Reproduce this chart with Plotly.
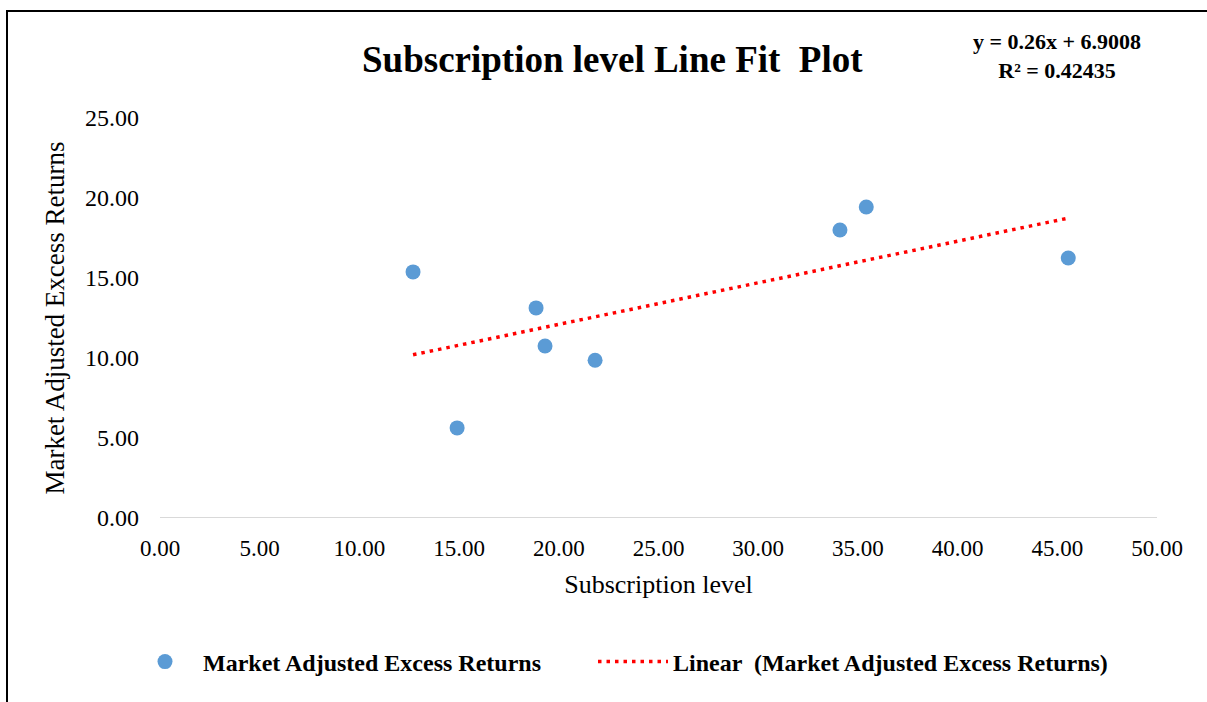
import plotly.graph_objects as go

# Subscription level vs. market adjusted excess returns
subscription = [12.69, 14.90, 18.86, 19.31, 21.82, 34.10, 35.42, 45.55]
excess_returns = [15.38, 5.63, 13.13, 10.75, 9.86, 18.00, 19.44, 16.25]

# Linear trendline coefficients
slope = 0.26
intercept = 6.9008
r_squared = 0.42435

x_ticks = [0, 5, 10, 15, 20, 25, 30, 35, 40, 45, 50]
y_ticks = [0, 5, 10, 15, 20, 25]

W, H = 1207, 702
L, R, T, B = 160, 50, 118, 184
pw, ph = W - L - R, H - T - B

def px_x(p):
    return (p - L) / pw

def px_y(p):
    return (H - B - p) / ph

font_family = "Liberation Serif, Times New Roman, serif"
legend_font = dict(family=font_family, size=24, color="#000000", weight="bold")

trend_x = [min(subscription), max(subscription)]
trend_y = [slope * v + intercept for v in trend_x]

fig = go.Figure()
fig.add_trace(go.Scatter(
    x=subscription, y=excess_returns, mode="markers",
    name="Market Adjusted Excess Returns",
    marker=dict(color="#5b9bd5", size=15, line=dict(width=0)),
    legend="legend",
))
fig.add_trace(go.Scatter(
    x=trend_x, y=trend_y, mode="lines",
    name="Linear  (Market Adjusted Excess Returns)",
    line=dict(color="#ff0000", width=3.5, dash="3.5px,5px"),
    legend="legend2",
))

fig.update_layout(
    width=W, height=H,
    margin=dict(l=L, r=R, t=T, b=B),
    paper_bgcolor="white", plot_bgcolor="white",
    font=dict(family=font_family, color="#000000", size=18),
    showlegend=True,
    legend=dict(
        orientation="h", x=px_x(127), y=px_y(662), xanchor="left", yanchor="middle",
        font=legend_font, itemwidth=66, bgcolor="rgba(0,0,0,0)",
    ),
    legend2=dict(
        orientation="h", x=px_x(593), y=px_y(662), xanchor="left", yanchor="middle",
        font=legend_font, itemwidth=70, bgcolor="rgba(0,0,0,0)",
    ),
    xaxis=dict(
        range=[0, 50], tickvals=x_ticks, ticktext=[f"{v:.2f}" for v in x_ticks],
        showgrid=False, zeroline=False, showline=False, ticks="",
        tickfont=dict(size=23), ticklabelstandoff=14,
        title=dict(text="Subscription level", font=dict(size=26), standoff=14),
        fixedrange=True,
    ),
    yaxis=dict(
        range=[0, 25], tickvals=y_ticks, ticktext=[f"{v:.2f}" for v in y_ticks],
        showgrid=False, zeroline=False, showline=False, ticks="",
        tickfont=dict(size=24), ticklabelstandoff=20,
        title=dict(text="Market Adjusted Excess Returns", font=dict(size=27), standoff=12),
        fixedrange=True,
    ),
    shapes=[
        # horizontal axis line
        dict(type="line", xref="paper", yref="y", x0=0, x1=1, y0=0, y1=0,
             line=dict(color="#d9d9d9", width=2)),
        # outer chart frame
        dict(type="rect", xref="paper", yref="paper",
             x0=px_x(7), x1=px_x(1220), y0=px_y(11), y1=px_y(720),
             line=dict(color="#000000", width=2), layer="above"),
    ],
    annotations=[
        dict(text="<b>Subscription level Line Fit  Plot</b>", xref="paper", yref="paper",
             x=px_x(612), y=px_y(60), xanchor="center", yanchor="middle",
             showarrow=False, font=dict(size=37, family=font_family)),
        dict(text=f"<b>y = {slope}x + {intercept}<br>R² = {r_squared}</b>",
             xref="paper", yref="paper", x=px_x(1057), y=px_y(56),
             xanchor="center", yanchor="middle", showarrow=False, align="center",
             font=dict(size=22, family=font_family)),
    ],
)

fig.write_html("out.html")
